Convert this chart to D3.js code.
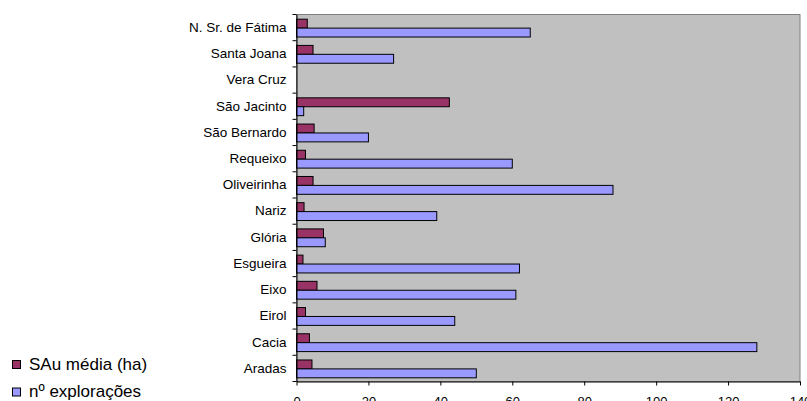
<!DOCTYPE html>
<html><head><meta charset="utf-8">
<script src="https://cdn.jsdelivr.net/npm/d3@7"></script>
<style>body{margin:0;background:#fff}svg{display:block}text{font-family:"Liberation Sans",Arial,sans-serif}</style>
</head><body><svg id="c" width="807" height="401"></svg>
<script>
const categories = ["N. Sr. de Fátima","Santa Joana","Vera Cruz","São Jacinto","São Bernardo","Requeixo","Oliveirinha","Nariz","Glória","Esgueira","Eixo","Eirol","Cacia","Aradas"];
const sauMedia = [3, 4.6, 0, 42.5, 4.9, 2.5, 4.6, 2.1, 7.5, 1.8, 5.7, 2.5, 3.6, 4.3];
const nExploracoes = [65, 27, 0, 2, 20, 60, 88, 39, 8, 62, 61, 44, 128, 50];
const seriesNames = ["SAu média (ha)", "nº explorações"];
const seriesColors = ["#993366", "#9999FF"];
const xTicks = [0, 20, 40, 60, 80, 100, 120, 140];

const svg = d3.select("#c");
const L = 296.5, R = 800, T = 14.5, B = 381.5;
const x = d3.scaleLinear().domain([0, 140]).range([L, R]);
const y = d3.scaleBand().domain(categories).range([T, B]).paddingInner(0).paddingOuter(0);
const inner = d3.scaleBand().domain([0, 1]).range([0, y.bandwidth()]).paddingInner(0).paddingOuter(0.47);

svg.append("rect").attr("x", L).attr("y", T).attr("width", R - L).attr("height", B - T)
  .attr("fill", "#C0C0C0").attr("stroke", "#808080").attr("stroke-width", 1);

const series = [sauMedia, nExploracoes];
series.forEach((vals, si) => {
  svg.append("g").selectAll("rect").data(categories).join("rect")
    .filter((d, i) => vals[i] > 0)
    .attr("x", x(0))
    .attr("y", d => y(d) + inner(si) + 0.5)
    .attr("width", (d) => x(vals[categories.indexOf(d)]) - x(0))
    .attr("height", inner.bandwidth())
    .attr("fill", seriesColors[si]).attr("stroke", "#000").attr("stroke-width", 1);
});

const xa = svg.append("g").attr("transform", `translate(0,${B})`)
  .call(d3.axisBottom(x).tickValues(xTicks).tickSize(4).tickSizeOuter(0).tickPadding(11));
xa.select(".domain").attr("stroke", "#000");
xa.selectAll("text").attr("font-size", 13).attr("fill", "#000");

const ya = svg.append("g").attr("transform", `translate(${L},0)`)
  .call(d3.axisLeft(y).tickSize(0).tickPadding(10));
ya.select(".domain").attr("stroke", "#000");
ya.selectAll("text").attr("font-size", 13.5).attr("fill", "#000");
svg.append("g").selectAll("line").data(d3.range(categories.length + 1)).join("line")
  .attr("x1", L - 4).attr("x2", L)
  .attr("y1", i => T + i * y.step()).attr("y2", i => T + i * y.step())
  .attr("stroke", "#000");

const leg = svg.append("g");
const legY = [365, 392.5];
seriesNames.forEach((n, i) => {
  leg.append("rect").attr("x", 12.5).attr("y", legY[i] - 4.5).attr("width", 8).attr("height", 8)
    .attr("fill", seriesColors[i]).attr("stroke", "#000");
  leg.append("text").attr("x", 29).attr("y", legY[i] + 4.5).attr("font-size", 17).text(n);
});
</script></body></html>
